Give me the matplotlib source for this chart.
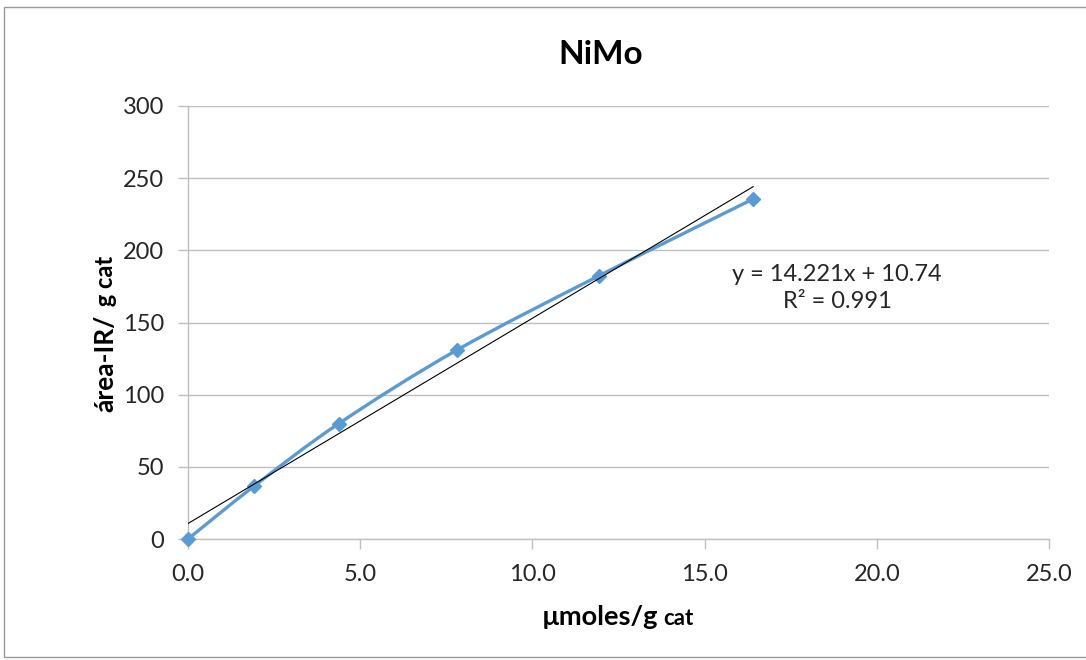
import numpy as np
import matplotlib
matplotlib.use("Agg")
import matplotlib.pyplot as plt
from matplotlib.path import Path
from matplotlib.patches import PathPatch, Rectangle

plt.rcParams["font.family"] = ["Lato", "DejaVu Sans"]

# Measured data
umoles = [0.0, 1.91, 4.38, 7.80, 11.92, 16.41]
area_ir = [0.0, 36.5, 80.0, 130.8, 182.2, 235.6]

# Linear fit reported on the chart
slope = 14.221
intercept = 10.74
r_squared = 0.991

title = "NiMo"
x_ticks = [0, 5, 10, 15, 20, 25]
y_ticks = [0, 50, 100, 150, 200, 250, 300]

blue = "#5B9BD5"
grid_col = "#BFBFBF"
text_col = "#262626"

fig = plt.figure(figsize=(10.86, 6.60), dpi=100)
# outer chart-area border
fig.patches.append(Rectangle((4 / 1086, 3 / 660), 1.2, 1 - 10 / 660,
                             transform=fig.transFigure, fill=False,
                             edgecolor="#9A9A9A", linewidth=1.0))

ax = fig.add_axes([188 / 1086, 1 - 539 / 660, (1049 - 188) / 1086, (539 - 106) / 660])
ax.set_xlim(0, 25)
ax.set_ylim(0, 300)
ax.set_xticks(x_ticks)
ax.set_xticklabels([f"{t:.1f}" for t in x_ticks])
ax.set_yticks(y_ticks)
ax.set_yticklabels([str(t) for t in y_ticks])
ax.grid(axis="y", color=grid_col, linewidth=1.0)
ax.set_axisbelow(True)
for s in ["top", "right"]:
    ax.spines[s].set_visible(False)
for s in ["left", "bottom"]:
    ax.spines[s].set_color(grid_col)
    ax.spines[s].set_linewidth(1.0)
ax.tick_params(axis="both", colors=grid_col, labelcolor=text_col, labelsize=17,
               length=7, width=1.0, direction="out")
ax.tick_params(axis="x", pad=11)
ax.tick_params(axis="y", pad=10)

# Smoothed series line (cubic Bezier segments through the points)
pts = np.column_stack([umoles, area_ir])
n = len(pts)
verts = [pts[0]]
codes = [Path.MOVETO]
for i in range(n - 1):
    p0 = pts[max(i - 1, 0)]
    p1 = pts[i]
    p2 = pts[i + 1]
    p3 = pts[min(i + 2, n - 1)]
    c1 = p1 + (p2 - p0) / 6.0
    c2 = p2 - (p3 - p1) / 6.0
    verts += [c1, c2, p2]
    codes += [Path.CURVE4] * 3
ax.add_patch(PathPatch(Path(verts, codes), facecolor="none", edgecolor=blue,
                       linewidth=2.4, zorder=3, capstyle="round"))
ax.plot(umoles, area_ir, linestyle="none", marker="D", markersize=7.5,
        color=blue, zorder=4, clip_on=False)

# Linear trendline
xf = np.array([umoles[0], umoles[-1]])
ax.plot(xf, slope * xf + intercept, color="black", linewidth=0.8, zorder=5)

ax.text((837 - 188) / 861, (539 - 288) / 433,
        f"y = {slope}x + {intercept}\nR² = {r_squared}",
        transform=ax.transAxes, ha="center", va="center", fontsize=17,
        color=text_col, linespacing=1.35)

fig.text(601 / 1086, 1 - 55 / 660, title, ha="center", va="center",
         fontsize=24, fontweight="bold", color="black")

# x-axis title with smaller unit part
fig.text(658 / 1086, 1 - 625 / 660, "µmoles/g", ha="right", va="baseline",
         fontsize=19.5, fontweight="bold", color="black")
fig.text(663 / 1086, 1 - 625 / 660, "cat", ha="left", va="baseline",
         fontsize=16, fontweight="bold", color="black")

# y-axis title with smaller unit part
fig.text(113 / 1086, 1 - 315 / 660, "área-IR/", ha="right", va="baseline",
         rotation=90, rotation_mode="anchor",
         fontsize=19, fontweight="bold", color="black")
fig.text(113 / 1086, 1 - 312 / 660, " g cat", ha="left", va="baseline",
         rotation=90, rotation_mode="anchor",
         fontsize=17, fontweight="bold", color="black")

fig.savefig("out.png", dpi=100)
